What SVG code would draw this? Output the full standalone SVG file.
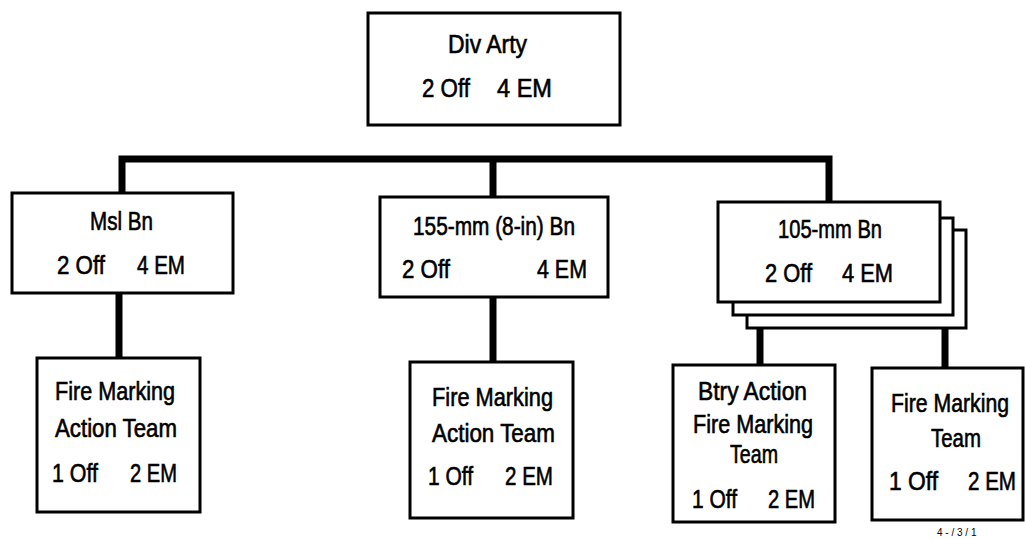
<svg xmlns="http://www.w3.org/2000/svg" width="1025" height="539" viewBox="0 0 1025 539">
<style>
  .box { fill: #fff; stroke: #000; stroke-width: 3; }
  .conn { fill: none; stroke: #000; stroke-width: 7; stroke-linejoin: miter; stroke-linecap: butt; }
  text { font-family: "Liberation Sans", Arial, sans-serif; font-size: 25px; fill: #000; stroke: #000; stroke-width: 0.6; }
  .s { font-size: 10px; stroke-width: 0; }
</style>
<rect width="1025" height="539" fill="#fff"/>
<g id="connectors">
  <path class="conn" d="M122,193 V159 H829 V202"/>
  <path class="conn" d="M493,159 V197"/>
  <path class="conn" d="M119,293 V358"/>
  <path class="conn" d="M493,297 V362"/>
  <path class="conn" d="M760,328 V365"/>
  <path class="conn" d="M945,328 V368"/>
</g>
<g id="div-arty">
  <rect class="box" x="368" y="13" width="252" height="112"/>
  <text x="448" y="53" textLength="79" lengthAdjust="spacingAndGlyphs">Div Arty</text>
  <text x="422" y="97" textLength="48" lengthAdjust="spacingAndGlyphs">2 Off</text>
  <text x="497" y="97" textLength="55" lengthAdjust="spacingAndGlyphs">4 EM</text>
</g>
<g id="msl-bn">
  <rect class="box" x="12" y="193" width="221" height="100"/>
  <text x="90" y="230" textLength="63" lengthAdjust="spacingAndGlyphs">Msl Bn</text>
  <text x="57" y="274" textLength="48" lengthAdjust="spacingAndGlyphs">2 Off</text>
  <text x="137" y="274" textLength="48" lengthAdjust="spacingAndGlyphs">4 EM</text>
</g>
<g id="bn-155">
  <rect class="box" x="380" y="197" width="228" height="100"/>
  <text x="413" y="235" textLength="162" lengthAdjust="spacingAndGlyphs">155-mm (8-in) Bn</text>
  <text x="402" y="278" textLength="48" lengthAdjust="spacingAndGlyphs">2 Off</text>
  <text x="537" y="278" textLength="50" lengthAdjust="spacingAndGlyphs">4 EM</text>
</g>
<g id="bn-105">
  <rect class="box" x="747" y="230" width="219" height="98"/>
  <rect class="box" x="733" y="218" width="220" height="97"/>
  <rect class="box" x="718" y="202" width="222" height="100"/>
  <text x="778" y="238" textLength="104" lengthAdjust="spacingAndGlyphs">105-mm Bn</text>
  <text x="765" y="282" textLength="47" lengthAdjust="spacingAndGlyphs">2 Off</text>
  <text x="842" y="282" textLength="51" lengthAdjust="spacingAndGlyphs">4 EM</text>
</g>
<g id="fmat-msl">
  <rect class="box" x="37" y="358" width="163" height="154"/>
  <text x="55" y="400" textLength="120" lengthAdjust="spacingAndGlyphs">Fire Marking</text>
  <text x="55" y="437" textLength="122" lengthAdjust="spacingAndGlyphs">Action Team</text>
  <text x="52" y="482" textLength="46" lengthAdjust="spacingAndGlyphs">1 Off</text>
  <text x="130" y="482" textLength="47" lengthAdjust="spacingAndGlyphs">2 EM</text>
</g>
<g id="fmat-155">
  <rect class="box" x="410" y="362" width="163" height="156"/>
  <text x="432" y="406" textLength="121" lengthAdjust="spacingAndGlyphs">Fire Marking</text>
  <text x="432" y="442" textLength="123" lengthAdjust="spacingAndGlyphs">Action Team</text>
  <text x="428" y="485" textLength="45" lengthAdjust="spacingAndGlyphs">1 Off</text>
  <text x="505" y="485" textLength="48" lengthAdjust="spacingAndGlyphs">2 EM</text>
</g>
<g id="btry-fmt">
  <rect class="box" x="673" y="365" width="162" height="157"/>
  <text x="698" y="400" textLength="109" lengthAdjust="spacingAndGlyphs">Btry Action</text>
  <text x="693" y="433" textLength="120" lengthAdjust="spacingAndGlyphs">Fire Marking</text>
  <text x="730" y="463" textLength="48" lengthAdjust="spacingAndGlyphs">Team</text>
  <text x="692" y="508" textLength="45" lengthAdjust="spacingAndGlyphs">1 Off</text>
  <text x="768" y="508" textLength="47" lengthAdjust="spacingAndGlyphs">2 EM</text>
</g>
<g id="fmt-105">
  <rect class="box" x="872" y="368" width="151" height="152"/>
  <text transform="translate(891,412) scale(0.85,1)" x="0" y="0">Fire Marking</text>
  <text x="931" y="447" textLength="50" lengthAdjust="spacingAndGlyphs">Team</text>
  <text x="889" y="490" textLength="49" lengthAdjust="spacingAndGlyphs">1 Off</text>
  <text x="968" y="490" textLength="48" lengthAdjust="spacingAndGlyphs">2 EM</text>
</g>
<text class="s" x="937" y="536">4 - / 3 / 1</text>
</svg>
